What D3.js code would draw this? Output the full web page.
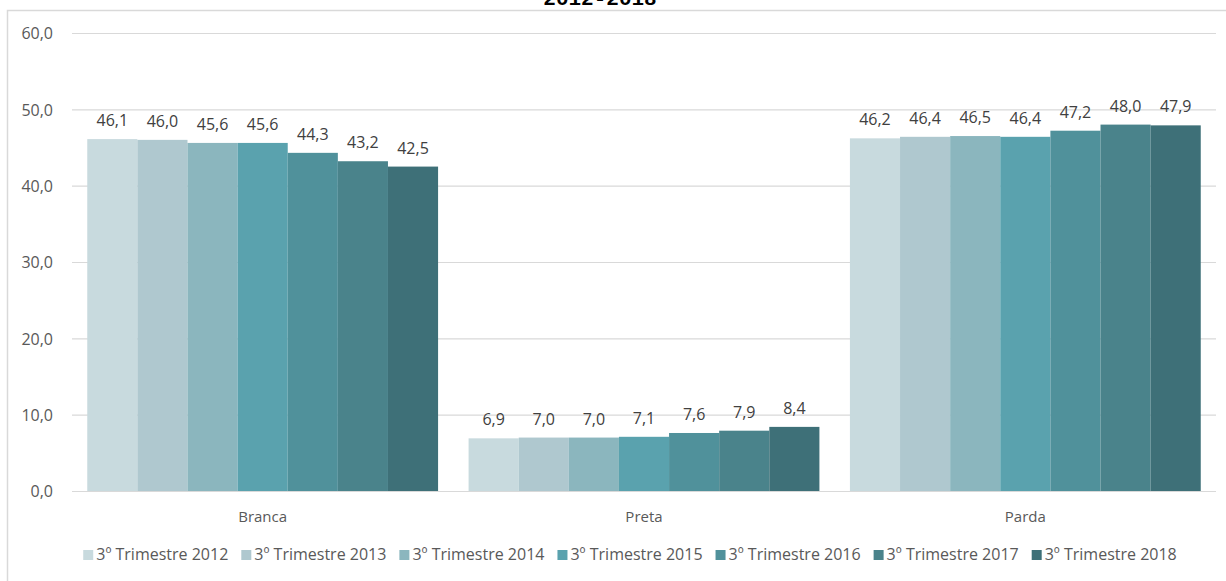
<!DOCTYPE html>
<html>
<head>
<meta charset="utf-8">
<script src="https://cdn.jsdelivr.net/npm/d3@7"></script>
<style>
  html, body { margin: 0; padding: 0; background: #fff; }
  svg { display: block; }
  text { font-family: "Open Sans", sans-serif; }
</style>
</head>
<body>
<svg id="chart" width="1226" height="581"></svg>
<script>
// Participação por cor ou raça, 3º trimestre de cada ano (%)
const categories = ["Branca", "Preta", "Parda"];
const seriesNames = [
  "3º Trimestre 2012", "3º Trimestre 2013", "3º Trimestre 2014",
  "3º Trimestre 2015", "3º Trimestre 2016", "3º Trimestre 2017",
  "3º Trimestre 2018"
];
const values2012 = [46.1, 6.9, 46.2];
const values2013 = [46.0, 7.0, 46.4];
const values2014 = [45.6, 7.0, 46.5];
const values2015 = [45.6, 7.1, 46.4];
const values2016 = [44.3, 7.6, 47.2];
const values2017 = [43.2, 7.9, 48.0];
const values2018 = [42.5, 8.4, 47.9];
const yTicks = [0, 10, 20, 30, 40, 50, 60];
const titleText = "2012-2018";

const seriesValues = [values2012, values2013, values2014, values2015,
                      values2016, values2017, values2018];
const colors = ["#c8dade", "#afc8cf", "#8bb6be", "#5aa2ae",
                "#50919b", "#4a838b", "#3e7078"];

const svg = d3.select("#chart");
const W = 1226, H = 581;
const plot = { left: 72, right: 1216, top: 33, bottom: 491 };
const fmt = v => d3.format(".1f")(v).replace(".", ",");

// Outer frame (top and left edges visible)
svg.append("path")
  .attr("d", `M7.5,${H} L7.5,10.5 L${W},10.5`)
  .attr("fill", "none")
  .attr("stroke", "#d9d9d9")
  .attr("stroke-width", 1.5);

// Title, sitting above the frame's top edge
svg.append("text")
  .attr("x", 600)
  .attr("y", 5)
  .attr("text-anchor", "middle")
  .style("font-family", "'Liberation Mono', monospace")
  .style("font-weight", "bold")
  .style("font-size", "21px")
  .attr("fill", "#000")
  .text(titleText);

const x0 = d3.scaleBand()
  .domain(categories)
  .range([plot.left, plot.right])
  .paddingInner(0.08)
  .paddingOuter(0.04);

const x1 = d3.scaleBand()
  .domain(seriesNames)
  .range([0, x0.bandwidth()])
  .padding(0);

const y = d3.scaleLinear()
  .domain([0, 60])
  .range([plot.bottom, plot.top]);

// Gridlines and y labels
const yAxis = d3.axisLeft(y)
  .tickValues(yTicks)
  .tickSize(-(plot.right - plot.left))
  .tickFormat(fmt);

const gy = svg.append("g")
  .attr("transform", `translate(${plot.left},0)`)
  .call(yAxis);
gy.select(".domain").remove();
gy.selectAll(".tick line")
  .attr("stroke", "#d9d9d9")
  .attr("stroke-width", 1.2);
gy.selectAll(".tick text")
  .attr("x", -19)
  .attr("dy", "0.36em")
  .attr("fill", "#595959")
  .style("font-size", "16px")
  .style("font-family", "'Open Sans', sans-serif");

// Bars
const groups = svg.append("g")
  .selectAll("g")
  .data(categories)
  .join("g")
  .attr("transform", d => `translate(${x0(d)},0)`);

groups.each(function(cat, ci) {
  const g = d3.select(this);
  const rows = seriesNames.map((s, si) => ({ s, si, v: seriesValues[si][ci] }));
  g.selectAll("rect")
    .data(rows)
    .join("rect")
    .attr("x", d => x1(d.s))
    .attr("y", d => y(d.v))
    .attr("width", x1.bandwidth())
    .attr("height", d => y(0) - y(d.v))
    .attr("fill", d => colors[d.si]);
  g.selectAll("text.val")
    .data(rows)
    .join("text")
    .attr("class", "val")
    .attr("x", d => x1(d.s) + x1.bandwidth() / 2)
    .attr("y", d => y(d.v) - 13)
    .attr("text-anchor", "middle")
    .attr("fill", "#404040")
    .style("font-size", "16px")
    .text(d => fmt(d.v));
});

// Redraw baseline over bars
svg.append("line")
  .attr("x1", plot.left).attr("x2", plot.right)
  .attr("y1", y(0) + 0.5).attr("y2", y(0) + 0.5)
  .attr("stroke", "#d9d9d9")
  .attr("stroke-width", 1.2);

// Category labels
svg.append("g")
  .selectAll("text")
  .data(categories)
  .join("text")
  .attr("x", d => x0(d) + x0.bandwidth() / 2)
  .attr("y", 522)
  .attr("text-anchor", "middle")
  .attr("fill", "#595959")
  .style("font-size", "15px")
  .text(d => d);

// Legend
const legend = svg.append("g");
const items = legend.selectAll("g")
  .data(seriesNames)
  .join("g");
items.append("rect")
  .attr("width", 10).attr("height", 10)
  .attr("y", -10)
  .attr("fill", (d, i) => colors[i]);
items.append("text")
  .attr("x", 13)
  .attr("y", 0)
  .attr("fill", "#595959")
  .style("font-size", "16px")
  .text(d => d);

const gap = 13;
let cursor = 0;
items.each(function() {
  const g = d3.select(this);
  g.attr("transform", `translate(${cursor},560)`);
  const w = 13 + g.select("text").node().getComputedTextLength();
  cursor += w + gap;
});
const totalW = cursor - gap;
legend.attr("transform", `translate(${630 - totalW / 2},0)`);
</script>
</body>
</html>
